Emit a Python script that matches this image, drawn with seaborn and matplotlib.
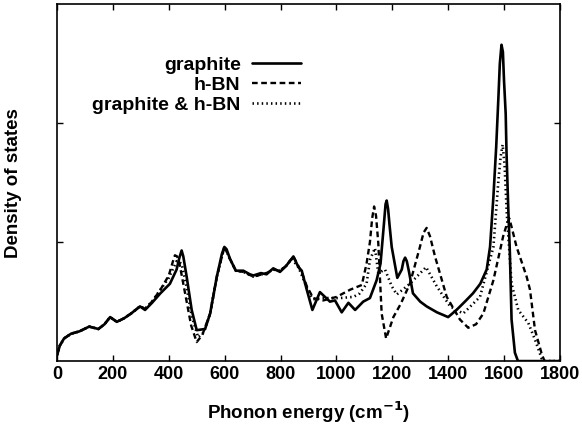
"""Phonon density of states: graphite, h-BN and the combined system."""

import matplotlib
matplotlib.use("Agg")
import matplotlib.pyplot as plt
import seaborn as sns

# --- data (y in units of one y-tick spacing) ---
graphite_x = [0, 10, 25, 50, 80, 115, 148, 170, 190, 214, 240, 265, 297, 315, 340,
              370, 404, 428, 438, 446, 452, 464, 482, 500, 530, 548, 572, 590, 599,
              607, 619, 640, 667, 690, 703, 730, 750, 774, 798, 820, 846, 864, 876,
              894, 914, 941, 977, 995, 1019, 1043, 1067, 1096, 1120, 1144, 1158,
              1170, 1176, 1180, 1185, 1190, 1198, 1218, 1234, 1240, 1246, 1252, 1260,
              1274, 1300, 1323, 1360, 1400, 1430, 1460, 1489, 1515, 1538, 1550, 1562,
              1572, 1580, 1585, 1591, 1596, 1600, 1606, 1609, 1615, 1621, 1627, 1639,
              1650, 1660, 1800]
graphite_y = [0.05, 0.13, 0.19, 0.23, 0.25, 0.29, 0.27, 0.31, 0.37, 0.33, 0.36, 0.40,
              0.46, 0.43, 0.49, 0.57, 0.65, 0.77, 0.87, 0.93, 0.88, 0.71, 0.43, 0.26,
              0.27, 0.40, 0.71, 0.90, 0.96, 0.94, 0.86, 0.76, 0.76, 0.73, 0.72, 0.74,
              0.73, 0.78, 0.75, 0.80, 0.88, 0.79, 0.76, 0.60, 0.43, 0.58, 0.50, 0.51,
              0.41, 0.49, 0.43, 0.50, 0.53, 0.68, 0.82, 1.15, 1.32, 1.35, 1.28, 1.15,
              0.96, 0.70, 0.77, 0.84, 0.87, 0.84, 0.75, 0.57, 0.50, 0.46, 0.41, 0.37,
              0.43, 0.50, 0.57, 0.65, 0.77, 0.96, 1.38, 1.80, 2.22, 2.50, 2.66, 2.60,
              2.36, 2.08, 1.75, 1.30, 0.91, 0.35, 0.07, 0.0, 0.0, 0.0]

hbn_x = [0, 10, 25, 50, 80, 115, 148, 170, 190, 214, 240, 265, 297, 315, 340, 370,
         400, 415, 422, 430, 440, 460, 480, 500, 520, 548, 572, 599, 619, 640, 667,
         703, 750, 774, 798, 820, 846, 864, 880, 894, 917, 953, 1001, 1049, 1091,
         1108, 1120, 1128, 1135, 1142, 1150, 1162, 1178, 1204, 1230, 1263, 1299,
         1312, 1323, 1335, 1353, 1395, 1442, 1472, 1500, 1526, 1562, 1597, 1610,
         1619, 1628, 1645, 1681, 1693, 1711, 1735, 1745, 1800]
hbn_y = [0.05, 0.13, 0.19, 0.23, 0.25, 0.29, 0.27, 0.31, 0.37, 0.33, 0.36, 0.40,
         0.46, 0.44, 0.50, 0.60, 0.72, 0.84, 0.89, 0.88, 0.80, 0.55, 0.30, 0.16,
         0.22, 0.40, 0.71, 0.96, 0.86, 0.76, 0.75, 0.71, 0.74, 0.77, 0.76, 0.80,
         0.88, 0.80, 0.72, 0.63, 0.53, 0.51, 0.54, 0.60, 0.64, 0.82, 1.00, 1.20,
         1.30, 1.22, 0.99, 0.40, 0.19, 0.37, 0.48, 0.65, 0.96, 1.08, 1.12, 1.05,
         0.88, 0.54, 0.35, 0.28, 0.31, 0.40, 0.68, 1.05, 1.15, 1.20, 1.12, 0.96,
         0.71, 0.60, 0.26, 0.06, 0.0, 0.0]

mix_x = [0, 10, 25, 50, 80, 115, 148, 170, 190, 214, 240, 265, 297, 315, 340, 370,
         400, 428, 446, 464, 482, 505, 525, 548, 572, 599, 619, 640, 667, 703, 750,
         774, 798, 820, 840, 864, 880, 900, 917, 950, 1013, 1061, 1084, 1108, 1120,
         1138, 1150, 1174, 1198, 1216, 1263, 1321, 1359, 1407, 1454, 1514, 1562,
         1580, 1588, 1595, 1602, 1610, 1627, 1651, 1687, 1711, 1735, 1745, 1800]
mix_y = [0.05, 0.13, 0.19, 0.23, 0.25, 0.29, 0.27, 0.31, 0.37, 0.33, 0.36, 0.40,
         0.46, 0.44, 0.50, 0.60, 0.70, 0.84, 0.82, 0.62, 0.38, 0.20, 0.24, 0.40,
         0.71, 0.96, 0.86, 0.76, 0.75, 0.71, 0.74, 0.77, 0.76, 0.80, 0.86, 0.79,
         0.70, 0.58, 0.52, 0.53, 0.53, 0.54, 0.57, 0.65, 0.85, 0.95, 0.74, 0.77,
         0.63, 0.56, 0.65, 0.79, 0.63, 0.46, 0.40, 0.54, 0.96, 1.52, 1.72, 1.82,
         1.65, 1.24, 0.65, 0.43, 0.32, 0.18, 0.02, 0.0, 0.0]

x_ticks = [0, 200, 400, 600, 800, 1000, 1200, 1400, 1600, 1800]
y_ticks = [1, 2]

sns.set_style("ticks")
plt.rcParams["font.family"] = ["Liberation Sans", "DejaVu Sans"]
plt.rcParams["font.weight"] = "bold"
plt.rcParams["text.color"] = "black"
plt.rcParams["axes.labelcolor"] = "black"

fig = plt.figure(figsize=(5.82, 4.34), dpi=100)
ax = fig.add_axes([0.098, 0.168, 0.864, 0.822])

sns.lineplot(x=graphite_x, y=graphite_y, ax=ax, color="black", lw=1.9,
             estimator=None, label="graphite")
sns.lineplot(x=hbn_x, y=hbn_y, ax=ax, color="black", lw=1.7,
             linestyle=(0, (2.4, 1.5)), estimator=None, label="h-BN")
sns.lineplot(x=mix_x, y=mix_y, ax=ax, color="black", lw=1.9,
             linestyle=(0, (0.55, 1.2)), estimator=None, label="graphite & h-BN")

ax.set_xlim(0, 1800)
ax.set_ylim(0, 3)
ax.set_xticks(x_ticks)
ax.set_yticks(y_ticks)
ax.set_yticklabels([])
ax.tick_params(direction="in", length=4, width=1, top=True, right=True,
               labelsize=13, colors="black")
for lab in ax.get_xticklabels():
    lab.set_fontweight("bold")
for sp in ax.spines.values():
    sp.set_linewidth(1.2)
    sp.set_color("black")

ax.set_xlabel("Phonon energy (cm$^{\\mathbf{-1}}$)", fontsize=13.5,
              fontweight="bold", labelpad=12)
ax.set_ylabel("Density of states", fontsize=13.5, fontweight="bold", labelpad=22)

ax.legend(loc="upper right", bbox_to_anchor=(0.485, 0.855), frameon=False,
          markerfirst=False, handlelength=2.5, handletextpad=0.6,
          labelspacing=0.12, borderpad=0, borderaxespad=0,
          prop={"size": 14, "weight": "bold"})

fig.savefig("out.png", dpi=100)
